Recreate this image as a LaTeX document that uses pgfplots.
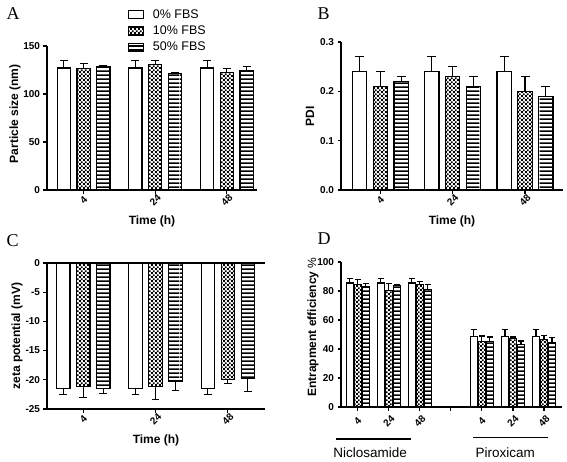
\documentclass[border=0pt]{standalone}
\usepackage{pgfplots}
\pgfplotsset{compat=1.18}
\usepackage{fontspec}
\setmainfont{Liberation Sans}
\newfontfamily\letterfont{Liberation Serif}
\usetikzlibrary{patterns}

\pgfdeclarepatternformonly{checks}{\pgfpointorigin}{\pgfpoint{4.2bp}{4.2bp}}{\pgfpoint{4.2bp}{4.2bp}}{%
  \pgfpathrectangle{\pgfpointorigin}{\pgfpoint{2.1bp}{2.1bp}}%
  \pgfpathrectangle{\pgfpoint{2.1bp}{2.1bp}}{\pgfpoint{2.1bp}{2.1bp}}%
  \pgfusepath{fill}}
\pgfdeclarepatternformonly{hlines}{\pgfpointorigin}{\pgfpoint{60bp}{3.6bp}}{\pgfpoint{60bp}{3.6bp}}{%
  \pgfpathrectangle{\pgfpointorigin}{\pgfpoint{60bp}{1.8bp}}%
  \pgfusepath{fill}}

\pgfplotsset{
  panel/.style={
    scale only axis,
    axis lines=left,
    axis line style={-, line width=1.2bp},
    tick align=outside,
    major tick length=3.5bp,
    tick style={line width=1.1bp, black},
    enlargelimits=false,
    clip=false,
    ybar,
    /pgf/number format/assume math mode=true,
    ticklabel style={font=\bfseries\fontsize{10bp}{11bp}\selectfont},
    label style={font=\bfseries\fontsize{12bp}{14bp}\selectfont},
    xticklabel style={rotate=45, anchor=center},
    xticklabel shift=7bp,
    xtick={0,1,2},
    xticklabels={4,24,48},
    xlabel={Time (h)},
    xlabel style={at={(axis description cs:0.5,0)}, anchor=center, yshift=-31bp},
    error bars/y explicit,
    error bars/error bar style={line width=1.1bp, black},
  },
  boxlegend/.style={legend image code/.code={\draw[##1] (0bp,-4bp) rectangle (15bp,4bp);}},
  s0/.style={draw=black, fill=white, line width=1.2bp, boxlegend},
  s1/.style={draw=black, fill=white, pattern=checks, line width=1.2bp, boxlegend},
  s2/.style={draw=black, fill=white, pattern=hlines, line width=1.2bp, boxlegend},
}

\begin{document}
\begin{tikzpicture}
\path (0,0) rectangle (567bp,-460bp);

% Panel A
\begin{axis}[panel,
  at={(47bp,-190bp)}, anchor=south west,
  width=210bp, height=144bp,
  xmin=-0.51, xmax=2.42, ymin=0, ymax=150,
  ytick={0,50,100,150},
  bar width=13.3bp,
  ylabel={Particle size (nm)},
  ylabel style={at={([xshift=-32bp]axis description cs:0,0.53)}, anchor=center},
  error bars/y dir=plus,
  error bars/error mark options={rotate=90, mark size=4bp, line width=1.1bp},
  legend style={at={([xshift=81bp, yshift=37bp]axis description cs:0,1)}, anchor=north west, draw=none, fill=none,
    font=\fontsize{12.5bp}{13bp}\selectfont, row sep=5bp, inner sep=0pt, legend cell align=left,
    nodes={inner sep=0.5bp},
    /tikz/every odd column/.append style={column sep=8bp}},
]
\addplot[s0, bar shift=-19.8bp] coordinates {(0,127) +- (0,8) (1,127) +- (0,8) (2,127) +- (0,8)};
\addplot[s1, bar shift=0bp] coordinates {(0,126.5) +- (0,5.5) (1,130.5) +- (0,4.5) (2,122) +- (0,4.5)};
\addplot[s2, bar shift=19.8bp] coordinates {(0,128.7) +- (0,1.3) (1,121.5) +- (0,1.2) (2,124) +- (0,5)};
\legend{0\% FBS,10\% FBS,50\% FBS}
\end{axis}

% Panel B
\begin{axis}[panel,
  at={(341bp,-190bp)}, anchor=south west,
  width=222bp, height=148bp,
  xmin=-0.543, xmax=2.525, ymin=0, ymax=0.3,
  ytick={0,0.1,0.2,0.3}, yticklabels={0.0,0.1,0.2,0.3},
  bar width=14.3bp,
  ylabel={PDI},
  ylabel style={at={([xshift=-31bp]axis description cs:0,0.5)}, anchor=center},
  error bars/y dir=plus,
  error bars/error mark options={rotate=90, mark size=4.5bp, line width=1.1bp},
]
\addplot[s0, bar shift=-20.8bp] coordinates {(0,0.24) +- (0,0.03) (1,0.24) +- (0,0.03) (2,0.24) +- (0,0.03)};
\addplot[s1, bar shift=0bp] coordinates {(0,0.21) +- (0,0.03) (1,0.23) +- (0,0.02) (2,0.20) +- (0,0.03)};
\addplot[s2, bar shift=20.8bp] coordinates {(0,0.22) +- (0,0.01) (1,0.21) +- (0,0.02) (2,0.19) +- (0,0.02)};
\end{axis}

% Panel C
\begin{axis}[panel,
  at={(47bp,-409bp)}, anchor=south west,
  width=218bp, height=146bp,
  xmin=-0.502, xmax=2.513, ymin=-25, ymax=0,
  ytick={-25,-20,-15,-10,-5,0}, yticklabels={-25,-20,-15,-10,-5,0},
  bar width=13.5bp,
  ylabel={zeta potential (mV)},
  ylabel style={at={([xshift=-30bp]axis description cs:0,0.5)}, anchor=center},
  error bars/y dir=minus,
  error bars/error mark options={rotate=90, mark size=3.8bp, line width=1.1bp},
]
\addplot[s0, bar shift=-20bp] coordinates {(0,-21.5) +- (0,1) (1,-21.5) +- (0,1) (2,-21.5) +- (0,1)};
\addplot[s1, bar shift=0bp] coordinates {(0,-21.1) +- (0,2) (1,-21.2) +- (0,2.1) (2,-20.0) +- (0,0.7)};
\addplot[s2, bar shift=20bp] coordinates {(0,-21.5) +- (0,0.9) (1,-20.2) +- (0,1.7) (2,-19.8) +- (0,2.2)};
\draw[line width=1.2bp] (rel axis cs:0,1) -- (rel axis cs:1,1);
\end{axis}

% Panel D
\begin{axis}[panel,
  at={(341bp,-407bp)}, anchor=south west,
  width=221bp, height=145bp,
  xmin=-0.54, xmax=6.58, ymin=0, ymax=100,
  ytick={0,20,40,60,80,100},
  xtick={0,1,2,3,4,5,6}, xticklabels={4,24,48,,4,24,48},
  xticklabel shift=11bp,
  xlabel={},
  bar width=6.7bp,
  ylabel={Entrapment efficiency {\mdseries\%}},
  ylabel style={at={([xshift=-28bp]axis description cs:0,0.55)}, anchor=center},
  error bars/y dir=plus,
  error bars/error mark options={rotate=90, mark size=3bp, line width=1.1bp},
]
\addplot[s0, bar shift=-8bp] coordinates {(0,85.5) +- (0,3) (1,85.5) +- (0,3) (2,85.5) +- (0,3)
  (4,48.7) +- (0,4.6) (5,48.7) +- (0,4.6) (6,48.7) +- (0,4.6)};
\addplot[s1, bar shift=0bp] coordinates {(0,84.4) +- (0,3.5) (1,80.5) +- (0,4.5) (2,84.4) +- (0,2)
  (4,45.3) +- (0,3.7) (5,47.1) +- (0,1.2) (6,46.4) +- (0,3)};
\addplot[s2, bar shift=8bp] coordinates {(0,82.8) +- (0,2.3) (1,83.9) +- (0,0.6) (2,81.1) +- (0,3.3)
  (4,45.3) +- (0,3) (5,43.2) +- (0,2.3) (6,44.1) +- (0,3.7)};
\draw[line width=1.3bp] ([yshift=-32bp]axis cs:-0.7,0) -- ([yshift=-32bp]axis cs:1.72,0);
\draw[line width=1.3bp] ([yshift=-30.5bp]axis cs:3.72,0) -- ([yshift=-30.5bp]axis cs:6.14,0);
\node[font=\fontsize{13.5bp}{15bp}\selectfont] at ([yshift=-46bp]axis cs:0.4,0) {Niclosamide};
\node[font=\fontsize{13.5bp}{15bp}\selectfont] at ([yshift=-46bp]axis cs:4.75,0) {Piroxicam};
\end{axis}

% Panel letters
\node[font=\letterfont\fontsize{18bp}{20bp}\selectfont, anchor=base west] at (3bp,-19bp) {A};
\node[font=\letterfont\fontsize{18bp}{20bp}\selectfont, anchor=base west] at (314bp,-19bp) {B};
\node[font=\letterfont\fontsize{18bp}{20bp}\selectfont, anchor=base west] at (3bp,-246bp) {C};
\node[font=\letterfont\fontsize{18bp}{20bp}\selectfont, anchor=base west] at (314bp,-244bp) {D};
\end{tikzpicture}
\end{document}
